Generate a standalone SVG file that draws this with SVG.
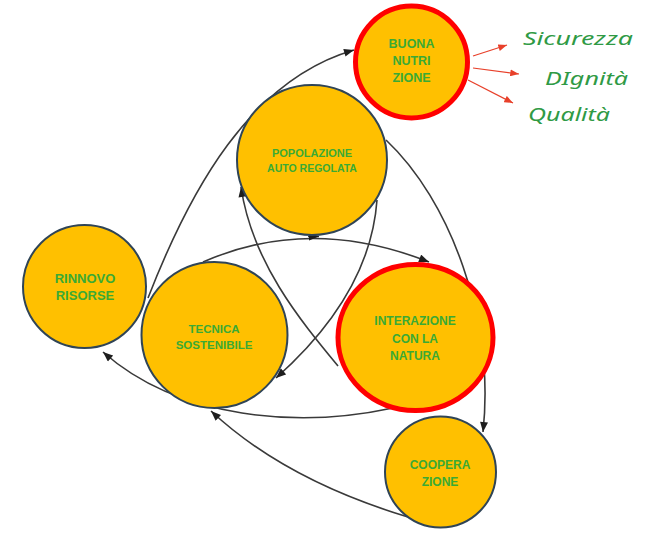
<svg xmlns="http://www.w3.org/2000/svg" width="648" height="533" viewBox="0 0 648 533">
<style>
.node{fill:#FFC000;stroke:#2F4456;stroke-width:2}
.hot{fill:#FFC000;stroke:#FF0000;stroke-width:5}
.lbl{font-family:"Liberation Sans",Arial,sans-serif;font-weight:bold;fill:#3AAA35;text-anchor:middle}
.con{fill:none;stroke:#3A3A3A;stroke-width:1.6}
.red{fill:none;stroke:#E8402A;stroke-width:1.2}
.hand{font-family:"Noto Sans","DejaVu Sans",sans-serif;font-style:italic;font-size:18px;fill:#2F9A45}
</style>
<defs>
<marker id="ah" viewBox="0 0 10 8" refX="10" refY="4" markerWidth="11" markerHeight="8" markerUnits="userSpaceOnUse" orient="auto">
<path d="M0,0 L10,4 L0,8 z" fill="#1E1E1E"/>
</marker>
<marker id="ar" viewBox="0 0 10 8" refX="10" refY="4" markerWidth="9" markerHeight="7" markerUnits="userSpaceOnUse" orient="auto">
<path d="M0,0 L10,4 L0,8 z" fill="#E8402A"/>
</marker>
</defs>
<rect width="648" height="533" fill="#FFFFFF"/>
<g id="connectors">
<path class="con" d="M148,298 C190,190 250,80 354,50" marker-end="url(#ah)"/>
<path class="con" d="M386,140 C450,200 495,320 483,432" marker-end="url(#ah)"/>
<path class="con" d="M203,262 Q310,215 429,262" marker-end="url(#ah)"/>
<path class="con" d="M338,366 C300,320 252,262 241,187" marker-end="url(#ah)"/>
<path class="con" d="M377,200 C372,270 330,330 276,378" marker-end="url(#ah)"/>
<path class="con" d="M393,408 C300,428 180,420 103,352" marker-end="url(#ah)"/>
<path class="con" d="M408,517 Q285,480 211,411" marker-end="url(#ah)"/>
<path class="con" d="M308,236.5 L319,236.5" marker-end="url(#ah)"/>
<path class="red" d="M473,56 L507,45" marker-end="url(#ar)"/>
<path class="red" d="M473,68 L519,74" marker-end="url(#ar)"/>
<path class="red" d="M468,80 L513,103" marker-end="url(#ar)"/>
</g>
<g id="buona-nutrizione">
<circle class="hot" cx="411.5" cy="62" r="56"/>
<text class="lbl" font-size="12.5" x="411.5" y="48">BUONA</text>
<text class="lbl" font-size="12.5" x="411.5" y="65">NUTRI</text>
<text class="lbl" font-size="12.5" x="411.5" y="82">ZIONE</text>
</g>
<g id="popolazione">
<circle class="node" cx="312" cy="160" r="75"/>
<text class="lbl" font-size="11" x="312" y="157">POPOLAZIONE</text>
<text class="lbl" font-size="10.5" x="312" y="172">AUTO REGOLATA</text>
</g>
<g id="rinnovo-risorse">
<circle class="node" cx="84.5" cy="286.5" r="61.5"/>
<text class="lbl" font-size="13" x="85" y="283">RINNOVO</text>
<text class="lbl" font-size="13" x="85" y="300">RISORSE</text>
</g>
<g id="tecnica-sostenibile">
<circle class="node" cx="214.5" cy="335" r="73"/>
<text class="lbl" font-size="11.5" x="214" y="333">TECNICA</text>
<text class="lbl" font-size="11.5" x="214" y="349">SOSTENIBILE</text>
</g>
<g id="interazione">
<ellipse class="hot" cx="415.5" cy="337.5" rx="77.5" ry="73"/>
<text class="lbl" font-size="12" x="415" y="325">INTERAZIONE</text>
<text class="lbl" font-size="12" x="415" y="343">CON LA</text>
<text class="lbl" font-size="12" x="415" y="360">NATURA</text>
</g>
<g id="cooperazione">
<circle class="node" cx="440.5" cy="472" r="55.5"/>
<text class="lbl" font-size="12" x="440" y="469">COOPERA</text>
<text class="lbl" font-size="12" x="440" y="486">ZIONE</text>
</g>
<g id="valori">
<text class="hand" x="523" y="45" textLength="110" lengthAdjust="spacingAndGlyphs">Sicurezza</text>
<text class="hand" x="545" y="85" textLength="83" lengthAdjust="spacingAndGlyphs">DIgnità</text>
<text class="hand" x="528" y="121" textLength="82" lengthAdjust="spacingAndGlyphs">Qualità</text>
</g>
</svg>
